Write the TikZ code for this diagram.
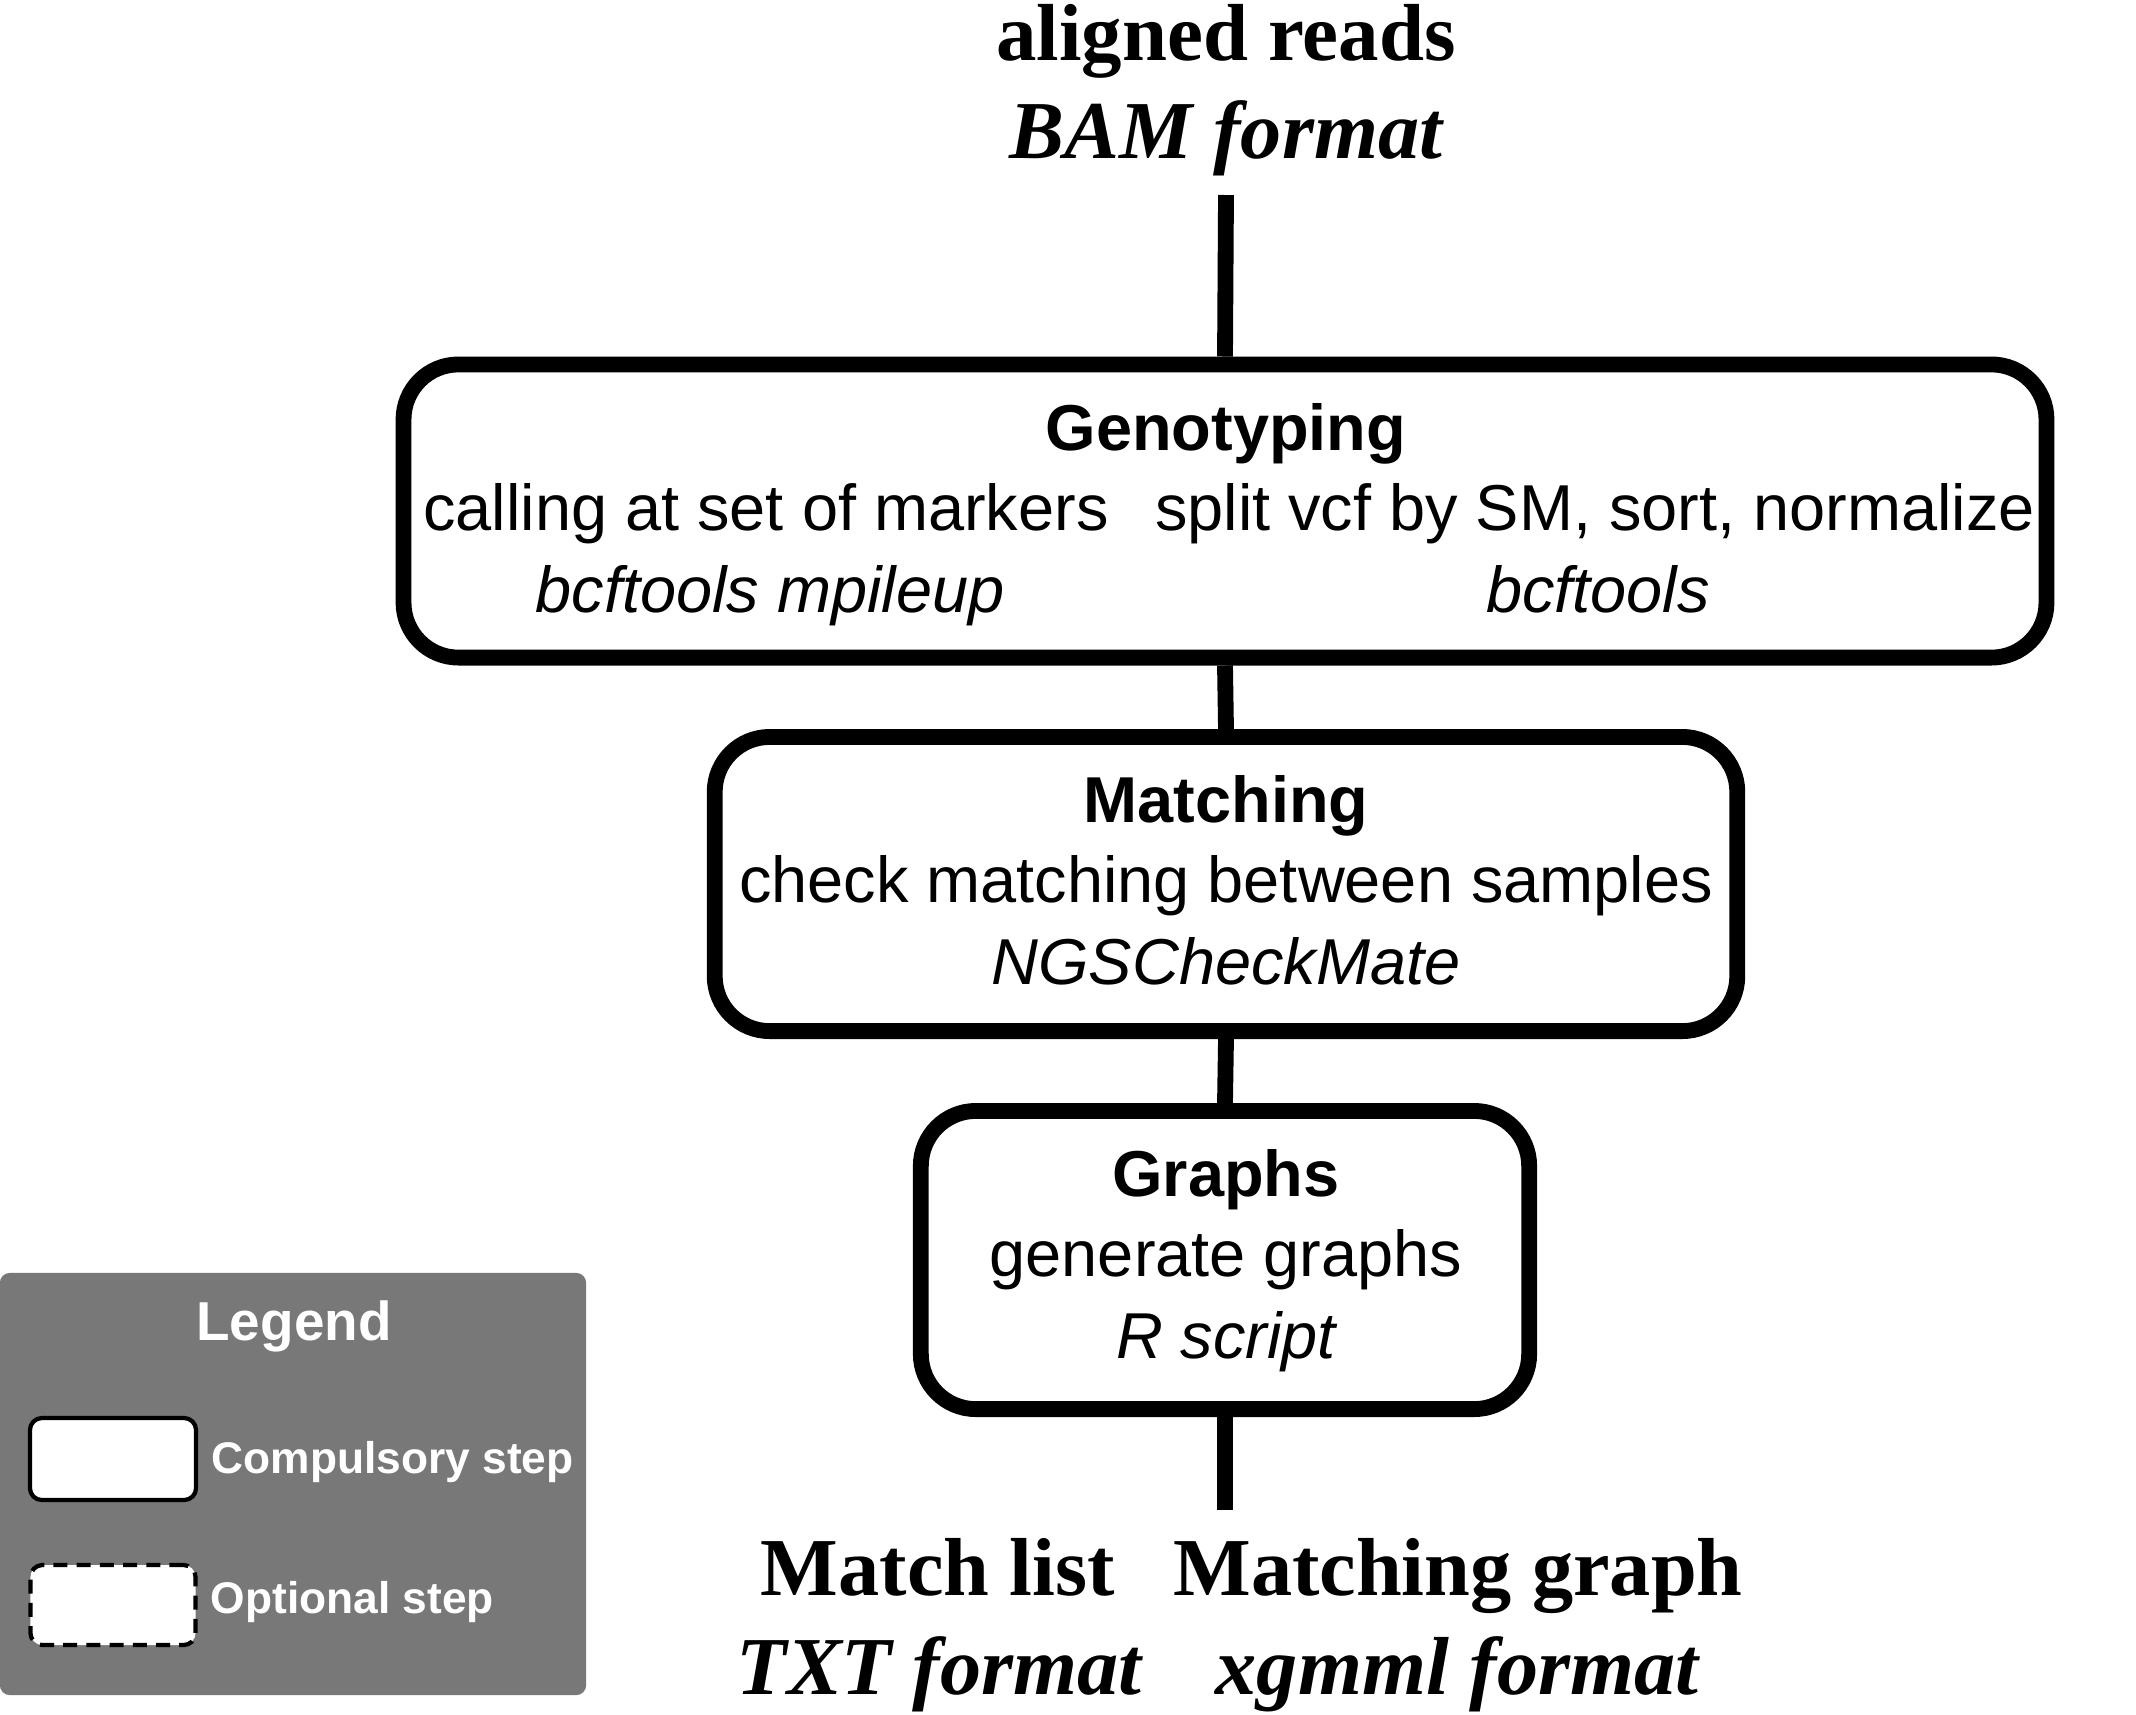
\documentclass[tikz,border=0pt]{standalone}
\usepackage{fontspec}
\setmainfont{Liberation Serif}
\setsansfont{Liberation Sans}
\usepackage{xcolor}
\definecolor{legendgray}{RGB}{120,120,120}

\tikzset{
  stepbox/.style={draw, line width=4.5pt, rounded corners=0.55cm, fill=white},
  link/.style={line width=4.5pt},
  iofile/.style={anchor=base, font=\rmfamily\bfseries\fontsize{23.4}{25}\selectfont},
  ioformat/.style={anchor=base, font=\rmfamily\bfseries\itshape\fontsize{23.4}{25}\selectfont},
  boxtitle/.style={anchor=base, font=\sffamily\bfseries\fontsize{18.45}{20}\selectfont},
  boxtext/.style={anchor=base, font=\sffamily\fontsize{18.45}{20}\selectfont},
  boxtool/.style={anchor=base, font=\sffamily\itshape\fontsize{18.45}{20}\selectfont},
  legendtext/.style={anchor=base west, text=white, inner sep=0pt, font=\sffamily\bfseries\fontsize{12.6}{14}\selectfont}
}

\begin{document}
\begin{tikzpicture}[x=0.01cm,y=-0.01cm]

\useasboundingbox (0,0) rectangle (2136,1714) ;

% input
\node [iofile, font=\rmfamily\bfseries\fontsize{23}{25}\selectfont] (reads) at (1226,60) {aligned reads} ;
\node [ioformat] (bam) at (1226,158) {BAM format} ;
\coordinate (in) at (1226,195) ;

% steps
\node [stepbox, minimum width=16.42cm, minimum height=2.93cm] (geno) at (1225,511) {} ;
\node [stepbox, minimum width=10.22cm, minimum height=2.94cm] (match) at (1226,884) {} ;
\node [stepbox, minimum width=6.08cm, minimum height=2.98cm] (graphs) at (1225,1260) {} ;

\node [boxtitle] (genotitle) at (1226,450) {Genotyping} ;
\node [boxtext] (calling) at (766,530) {calling at set of markers} ;
\node [boxtext] (split) at (1595,530) {split vcf by SM, sort, normalize} ;
\node [boxtool] (mpileup) at (770,612) {bcftools mpileup} ;
\node [boxtool] (bcftools) at (1598,612) {bcftools} ;

\node [boxtitle] (matchtitle) at (1226,822) {Matching} ;
\node [boxtext] (check) at (1226,902) {check matching between samples} ;
\node [boxtool] (ngs) at (1226,984) {NGSCheckMate} ;

\node [boxtitle] (graphtitle) at (1226,1196) {Graphs} ;
\node [boxtext] (generate) at (1226,1276) {generate graphs} ;
\node [boxtool] (rscript) at (1226,1358) {R script} ;

% output
\coordinate (out) at (1225,1510) ;
\node [iofile] (list) at (938,1595) {Match list} ;
\node [iofile] (mgraph) at (1458,1595) {Matching graph} ;
\node [ioformat] (txt) at (939,1694) {TXT format} ;
\node [ioformat] (xgmml) at (1457,1694) {xgmml format} ;

\draw [link] (in) -- (geno.north) ;
\draw [link] (geno.south) -- (match.north) ;
\draw [link] (match.south) -- (graphs.north) ;
\draw [link] (graphs.south) -- (out) ;

% legend
\node [fill=legendgray, rounded corners=0.1cm, minimum width=5.86cm, minimum height=4.22cm, inner sep=0pt] (legend) at (293,1484) {} ;
\node [anchor=base, text=white, font=\sffamily\bfseries\fontsize{15.6}{17}\selectfont] (legendtitle) at (294,1340) {Legend} ;
\node [draw, fill=white, line width=1.2pt, rounded corners=0.12cm, minimum width=1.66cm, minimum height=0.82cm] (compbox) at (113,1459) {} ;
\node [draw, dashed, dash pattern=on 4pt off 2.6pt, fill=white, line width=1.2pt, rounded corners=0.12cm, minimum width=1.65cm, minimum height=0.80cm] (optbox) at (113,1605) {} ;
\node [legendtext] (comptext) at (211,1473) {Compulsory step} ;
\node [legendtext] (opttext) at (210,1613) {Optional step} ;

\end{tikzpicture}
\end{document}
